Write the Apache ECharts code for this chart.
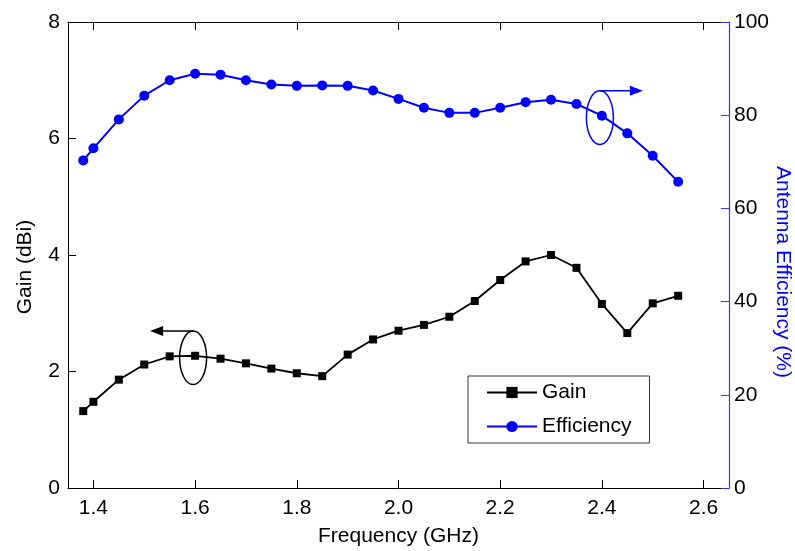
<!DOCTYPE html>
<html>
<head>
<meta charset="utf-8">
<script src="https://cdn.jsdelivr.net/npm/echarts@6/dist/echarts.min.js"></script>
<style>
  html, body { margin: 0; padding: 0; background: #fff; }
  #chart { width: 795px; height: 551px; }
</style>
</head>
<body>
<div id="chart"></div>
<script>
    // frequency points (GHz)
    var freq = [1.38, 1.40, 1.45, 1.50, 1.55, 1.60, 1.65, 1.70, 1.75, 1.80, 1.85, 1.90, 1.95,
        2.00, 2.05, 2.10, 2.15, 2.20, 2.25, 2.30, 2.35, 2.40, 2.45, 2.50, 2.55];
    // gain (dBi)
    var gain = [1.32, 1.48, 1.86, 2.12, 2.26, 2.27, 2.22, 2.14, 2.05, 1.97, 1.92, 2.29, 2.55,
        2.70, 2.80, 2.94, 3.21, 3.57, 3.89, 4.00, 3.78, 3.16, 2.66, 3.17, 3.30];
    // antenna efficiency (%)
    var efficiency = [70.3, 72.9, 79.1, 84.2, 87.5, 88.9, 88.7, 87.5, 86.6, 86.3, 86.4, 86.3, 85.3,
        83.5, 81.6, 80.5, 80.5, 81.6, 82.8, 83.3, 82.4, 79.9, 76.1, 71.3, 65.7];
    var xTicks = [1.4, 1.6, 1.8, 2.0, 2.2, 2.4, 2.6];

    var FONT = 'Liberation Sans, Arial, sans-serif';
    var BLUE = '#0000ff';

    function pairs(xs, ys) {
        return xs.map(function (x, i) { return [x, ys[i]]; });
    }

    var chart = echarts.init(document.getElementById('chart'));

    var option = {
        animation: false,
        backgroundColor: '#fff',
        textStyle: { fontFamily: FONT },
        grid: { left: 68, right: 66, top: 22, bottom: 63, outerBoundsMode: 'none', containLabel: false },
        legend: {
            left: 468,
            top: 376,
            orient: 'vertical',
            backgroundColor: '#fff',
            borderColor: '#333',
            borderWidth: 1,
            padding: [6, 18, 6, 18],
            itemWidth: 50,
            itemHeight: 14,
            itemGap: 13,
            textStyle: { fontSize: 21, color: '#000', fontFamily: FONT },
            data: ['Gain', 'Efficiency']
        },
        xAxis: [
            {
                type: 'value',
                min: 1.35,
                max: 2.65,
                name: 'Frequency (GHz)',
                nameLocation: 'middle',
                nameGap: 38,
                nameMoveOverlap: false,
                nameTextStyle: { fontSize: 21, color: '#000' },
                axisLine: { onZero: false, lineStyle: { color: '#000', width: 1 } },
                axisTick: { inside: true, length: 8, customValues: xTicks, lineStyle: { color: '#000' } },
                axisLabel: {
                    customValues: xTicks, margin: 10, fontSize: 21, color: '#000',
                    formatter: function (v) { return v.toFixed(1); }
                },
                splitLine: { show: false }
            },
            {
                type: 'value',
                position: 'top',
                min: 1.35,
                max: 2.65,
                axisLine: { onZero: false, lineStyle: { color: '#000', width: 1 } },
                axisTick: { inside: true, length: 8, customValues: xTicks, lineStyle: { color: '#000' } },
                axisLabel: { show: false },
                splitLine: { show: false }
            }
        ],
        yAxis: [
            {
                type: 'value',
                min: 0,
                max: 8,
                interval: 2,
                name: 'Gain (dBi)',
                nameLocation: 'middle',
                nameGap: 32,
                nameMoveOverlap: false,
                nameTextStyle: { fontSize: 21, color: '#000', padding: [0, 24, 0, 0] },
                axisLine: { show: true, onZero: false, lineStyle: { color: '#000', width: 1 } },
                axisTick: { show: true, inside: true, length: 8, lineStyle: { color: '#000' } },
                axisLabel: { margin: 8, fontSize: 21, color: '#000' },
                splitLine: { show: false }
            },
            {
                type: 'value',
                min: 0,
                max: 100,
                interval: 20,
                position: 'right',
                name: 'Antenna Efficiency (%)',
                nameLocation: 'middle',
                nameRotate: -90,
                nameGap: 43,
                nameMoveOverlap: false,
                nameTextStyle: { fontSize: 21, color: BLUE, padding: [0, 0, 0, 34] },
                axisLine: { show: true, onZero: false, lineStyle: { color: '#3333ff', width: 1.2 } },
                axisTick: { show: true, inside: true, length: 8, lineStyle: { color: '#3333ff' } },
                axisLabel: { margin: 5, fontSize: 21, color: '#000' },
                splitLine: { show: false }
            }
        ],
        series: [
            {
                name: 'Gain',
                type: 'line',
                yAxisIndex: 0,
                data: pairs(freq, gain),
                symbol: 'rect',
                symbolSize: 8,
                color: '#000',
                lineStyle: { color: '#000', width: 1.8 },
                itemStyle: { color: '#000' }
            },
            {
                name: 'Efficiency',
                type: 'line',
                yAxisIndex: 1,
                data: pairs(freq, efficiency),
                symbol: 'circle',
                symbolSize: 10,
                color: BLUE,
                lineStyle: { color: BLUE, width: 2 },
                itemStyle: { color: BLUE }
            }
        ]
    };

    chart.setOption(option);

    // ellipse + arrow annotations, placed from data coordinates
    function annotation(x, y, yAxisIndex, dir, color) {
        var p = chart.convertToPixel({ xAxisIndex: 0, yAxisIndex: yAxisIndex }, [x, y]);
        var cx = p[0] - 2, cy = p[1] + 2, rx = 13.5, ry = 26.8;
        var top = cy - ry;
        var tip = cx + dir * 43;
        return [
            { type: 'ellipse', shape: { cx: cx, cy: cy, rx: rx, ry: ry }, style: { fill: null, stroke: color, lineWidth: 1.5 }, z: 10 },
            { type: 'polyline', shape: { points: [[cx, top], [tip - dir * 10, top]] }, style: { stroke: color, lineWidth: 1.5 }, z: 10 },
            { type: 'polygon', shape: { points: [[tip, top], [tip - dir * 13, top - 5], [tip - dir * 13, top + 5]] }, style: { fill: color }, z: 10 }
        ];
    }

    chart.setOption({
        graphic: annotation(1.60, gain[5], 0, -1, '#000').concat(annotation(2.40, efficiency[21], 1, 1, BLUE))
    });
</script>
</body>
</html>
